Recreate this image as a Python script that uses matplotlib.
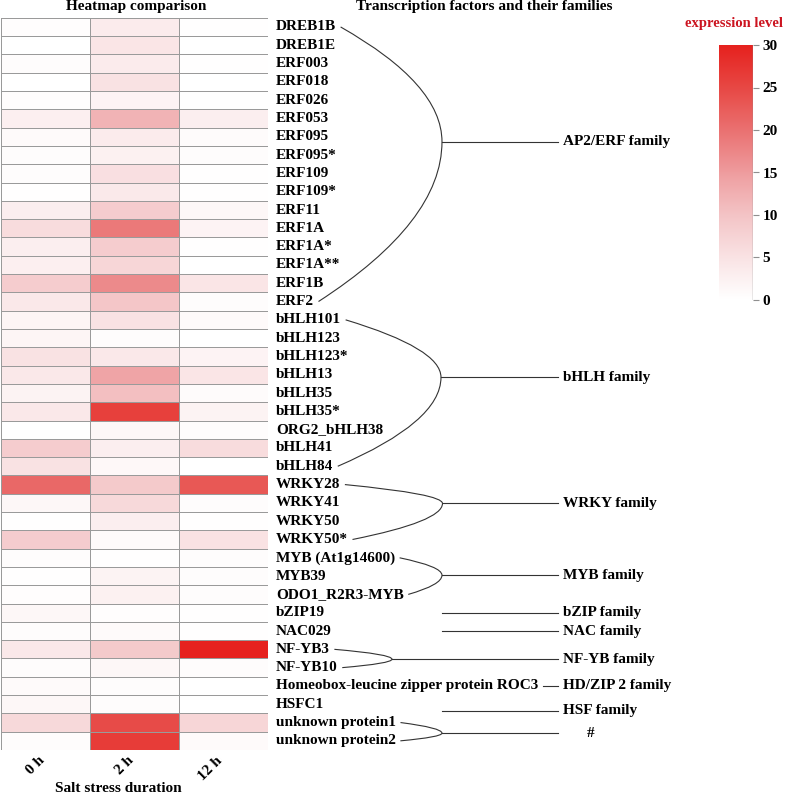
import numpy as np
import matplotlib
matplotlib.use("Agg")
import matplotlib.pyplot as plt
from matplotlib.colors import LinearSegmentedColormap
from matplotlib.path import Path
from matplotlib.patches import PathPatch
import matplotlib.transforms as mtransforms

# ---------------- data ----------------
genes = ["DREB1B", "DREB1E", "ERF003", "ERF018", "ERF026", "ERF053", "ERF095",
         "ERF095*", "ERF109", "ERF109*", "ERF11", "ERF1A", "ERF1A*", "ERF1A**",
         "ERF1B", "ERF2", "bHLH101", "bHLH123", "bHLH123*", "bHLH13", "bHLH35",
         "bHLH35*", "ORG2_bHLH38", "bHLH41", "bHLH84", "WRKY28", "WRKY41",
         "WRKY50", "WRKY50*", "MYB (At1g14600)", "MYB39", "ODO1_R2R3-MYB",
         "bZIP19", "NAC029", "NF-YB3", "NF-YB10",
         "Homeobox-leucine zipper protein ROC3", "HSFC1",
         "unknown protein1", "unknown protein2"]

expr_0h = [0.4, 0.1, 0.6, 0.1, 0.4, 2.8, 1.0, 0.6, 0.5, 0.3, 3.0, 6.0, 3.0,
           2.8, 8.5, 4.0, 1.8, 1.8, 5.0, 4.0, 2.2, 4.0, 0.0, 8.5, 5.0,
           21.0, 1.5, 0.2, 8.5, 0.6, 0.2, 0.4, 1.5, 0.6, 4.0, 0.5,
           1.0, 1.5, 6.5, 0.6]
expr_2h = [3.5, 4.5, 3.5, 5.0, 2.0, 12.0, 3.5, 2.5, 5.5, 3.8, 8.5, 19.0, 8.5,
           7.0, 17.0, 9.5, 5.0, 0.5, 4.0, 14.0, 10.5, 26.0, 1.5, 3.0, 1.2,
           9.0, 6.5, 3.0, 1.0, 0.2, 2.2, 2.5, 0.4, 1.0, 9.0, 1.5,
           0.5, 0.5, 24.5, 26.5]
expr_12h = [0.3, 0.1, 0.3, 0.1, 0.1, 3.0, 0.8, 0.5, 0.3, 0.3, 1.5, 2.0, 0.3,
            0.1, 4.5, 0.5, 1.0, 0.0, 2.0, 4.5, 0.8, 2.2, 0.5, 6.0, 0.1,
            23.0, 0.5, 0.3, 5.0, 0.5, 0.5, 0.6, 0.2, 0.3, 30.0, 0.5,
            0.1, 0.1, 7.0, 1.0]
time_labels = ["0 h", "2 h", "12 h"]

family_names = ["AP2/ERF family", "bHLH family", "WRKY family", "MYB family",
                "bZIP family", "NAC family", "NF-YB family", "HD/ZIP 2 family",
                "HSF family", "#"]
family_first = [0, 16, 25, 29, 32, 33, 34, 36, 37, 38]
family_last = [15, 24, 28, 31, 32, 33, 35, 36, 37, 39]
family_anchor = [6.77, 19.64, 26.53, 30.45, 32.5, 33.5, 35.04, 36.5, 37.85, 39.08]

cbar_ticks = [0, 5, 10, 15, 20, 25, 30]

# ---------------- layout (pixels) ----------------
W, H = 787, 797
hm_left, hm_right, hm_top, hm_bottom = 0.5, 268, 17.8, 750
bracket_x = [442, 441, 442.5, 442, 442, 442, 392, 442, 442, 442]
line_end_x = 558
fam_label_x = 563
gene_label_x = 276

plt.rcParams["font.family"] = ["Liberation Serif", "DejaVu Serif"]
plt.rcParams["font.weight"] = "bold"

cmap = LinearSegmentedColormap.from_list(
    "wr", [(0.0, "#ffffff"), (1/6, "#f9e2e3"), (2/6, "#f3c3c5"),
           (3/6, "#ee9c9e"), (4/6, "#ea7171"), (5/6, "#e74844"),
           (1.0, "#e6211e")])

fig = plt.figure(figsize=(W / 100, H / 100), dpi=100)

def fx(px):
    return px / W

def fy(py):
    return 1 - py / H

ax = fig.add_axes([fx(hm_left), fy(hm_bottom), fx(hm_right - hm_left),
                   (hm_bottom - hm_top) / H])
data = np.array([expr_0h, expr_2h, expr_12h]).T
n = len(genes)
mesh = ax.pcolormesh(np.arange(4), np.arange(n + 1), data, cmap=cmap,
                     vmin=0, vmax=30, edgecolors="#9a9a9a", linewidth=0.55)
ax.set_xlim(0, 3)
ax.set_ylim(n, 0)
for s in ax.spines.values():
    s.set_visible(False)
ax.set_yticks([])
ax.set_xticks(np.arange(3) + 0.5)
ax.set_xticklabels(time_labels, rotation=45, ha="right",
                   rotation_mode="anchor", fontsize=11, fontweight="bold")
ax.tick_params(axis="x", length=0, pad=3)
off = mtransforms.ScaledTranslation(-7.5 / 100, 0, fig.dpi_scale_trans)
for lab in ax.get_xticklabels():
    lab.set_transform(lab.get_transform() + off)

# annotation axes sharing the row coordinates
ann = fig.add_axes([fx(hm_right), fy(hm_bottom), 1 - fx(hm_right),
                    (hm_bottom - hm_top) / H])
ann.set_xlim(hm_right, W)
ann.set_ylim(n, 0)
ann.axis("off")

texts = []
for i, g in enumerate(genes):
    t = ann.text(gene_label_x, i + 0.5, g, ha="left", va="center",
                 fontsize=11, fontweight="bold", clip_on=False)
    texts.append(t)

fig.canvas.draw()
renderer = fig.canvas.get_renderer()
inv = ann.transData.inverted()
ends = []
for t in texts:
    bb = t.get_window_extent(renderer)
    ends.append(inv.transform((bb.x1, bb.y0))[0])

lc = "#333333"
for name, a, b, yv, vx in zip(family_names, family_first, family_last,
                              family_anchor, bracket_x):
    if a != b:
        sx, sy = ends[a] + 4.5, a + 0.5
        ex, ey = ends[b] + 4.5, b + 0.5
        verts = [(sx, sy), (vx, (sy + yv) / 2), (vx, yv),
                 (vx, (yv + ey) / 2), (ex, ey)]
        codes = [Path.MOVETO, Path.CURVE3, Path.CURVE3, Path.CURVE3, Path.CURVE3]
        ann.add_patch(PathPatch(Path(verts, codes), fill=False, ec=lc,
                                lw=0.8, clip_on=False))
        x0 = vx
    else:
        x0 = max(vx, ends[a] + 4.5)
    ann.plot([x0, line_end_x], [yv, yv], color=lc, lw=0.8, clip_on=False)
    if name == "#":
        ann.text(591, yv, name, ha="center", va="center", fontsize=11,
                 fontweight="bold")
    else:
        ann.text(fam_label_x, yv, name, ha="left", va="center", fontsize=11,
                 fontweight="bold")

# titles
fig.text(fx(136.5), fy(6.5), "Heatmap comparison", ha="center", va="center",
         fontsize=11, fontweight="bold")
fig.text(fx(484), fy(6.5), "Transcription factors and their families",
         ha="center", va="center", fontsize=11, fontweight="bold")
fig.text(fx(118), fy(789), "Salt stress duration", ha="center", va="center",
         fontsize=11, fontweight="bold")

# colorbar
cax = fig.add_axes([fx(719), fy(300), fx(34), 255 / H])
cb = fig.colorbar(mesh, cax=cax, ticks=cbar_ticks)
cb.outline.set_visible(False)
cax.axvline(1, color="#8f8f8f", lw=1)
cax.tick_params(length=4, width=0.8, color="#8f8f8f", pad=3)
for lab in cax.get_yticklabels():
    lab.set_fontsize(11)
    lab.set_fontweight("bold")
fig.text(fx(734), fy(23), "expression level", ha="center", va="center",
         fontsize=10.5, fontweight="bold", color="#cc1420")

fig.savefig("out.png", dpi=100)
